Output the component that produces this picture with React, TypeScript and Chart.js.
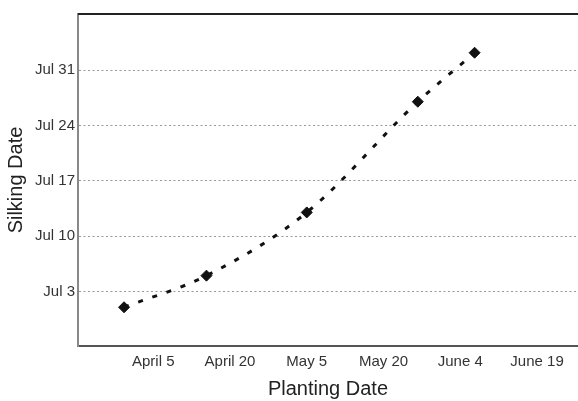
import { useEffect, useRef } from "react";
import { Chart, registerables } from "chart.js";

Chart.register(...registerables);

// Dates are stored as day of year (non-leap year): Mar 31 = 90, Jul 1 = 182.
const plantingDay = [89.3, 105.4, 125, 146.7, 157.8];
const silkingDay = [182, 186, 194, 208, 214.2];

const xTickValues = [95, 110, 125, 140, 155, 170];
const xTickLabels = ["April 5", "April 20", "May 5", "May 20", "June 4", "June 19"];
const yTickValues = [184, 191, 198, 205, 212];
const yTickLabels = ["Jul 3", "Jul 10", "Jul 17", "Jul 24", "Jul 31"];

const FONT = "'Liberation Sans', Arial, Helvetica, sans-serif";

// Dark rule along the top edge of the plot area.
const topBorder = {
  id: "topBorder",
  afterDraw(chart: any) {
    const { ctx, chartArea } = chart;
    ctx.save();
    ctx.strokeStyle = "#222";
    ctx.lineWidth = 2;
    ctx.beginPath();
    ctx.moveTo(chartArea.left, chartArea.top);
    ctx.lineTo(chartArea.right, chartArea.top);
    ctx.stroke();
    ctx.restore();
  },
};

export default function App() {
  const canvasRef = useRef<HTMLCanvasElement | null>(null);

  useEffect(() => {
    document.body.style.margin = "0";
    document.body.style.overflow = "hidden";
    const canvas = canvasRef.current;
    if (!canvas) return;
    const points = plantingDay.map((x, i) => ({ x, y: silkingDay[i] }));

    const chart = new Chart(canvas, {
      type: "scatter",
      data: {
        datasets: [
          {
            type: "line",
            data: points,
            borderColor: "#111",
            borderWidth: 3,
            borderDash: [5, 10],
            pointRadius: 0,
            tension: 0.4,
            cubicInterpolationMode: "monotone",
            fill: false,
          } as any,
          {
            data: points,
            pointStyle: "rectRot",
            pointRadius: 5.5,
            pointBackgroundColor: "#111",
            pointBorderColor: "#111",
            pointBorderWidth: 1,
          },
        ],
      },
      options: {
        responsive: false,
        animation: false,
        events: [],
        layout: { autoPadding: false, padding: { top: 14, left: 0, right: 0, bottom: 0 } },
        plugins: {
          legend: { display: false },
          tooltip: { enabled: false },
        },
        scales: {
          x: {
            type: "linear",
            min: 80.3,
            max: 178,
            afterBuildTicks: (axis: any) => {
              axis.ticks = xTickValues.map((value) => ({ value }));
            },
            afterFit: (axis: any) => {
              axis.height = 55;
              axis.paddingLeft = 0;
              axis.paddingRight = 0;
            },
            ticks: {
              autoSkip: false,
              maxRotation: 0,
              padding: 7,
              color: "#333",
              font: { family: FONT, size: 15 },
              callback: (value: any) => {
                const i = xTickValues.indexOf(Number(value));
                return i >= 0 ? xTickLabels[i] : "";
              },
            },
            grid: { display: false, drawTicks: false },
            border: { display: true, color: "#555", width: 2 },
            title: {
              display: true,
              text: "Planting Date",
              color: "#222",
              font: { family: FONT, size: 20 },
              padding: { top: 0, bottom: 0 },
            },
          },
          y: {
            type: "linear",
            min: 177.1,
            max: 219.1,
            afterBuildTicks: (axis: any) => {
              axis.ticks = yTickValues.map((value) => ({ value }));
            },
            afterFit: (axis: any) => {
              axis.width = 78;
            },
            ticks: {
              autoSkip: false,
              padding: 3,
              color: "#333",
              font: { family: FONT, size: 15 },
              callback: (value: any) => {
                const i = yTickValues.indexOf(Number(value));
                return i >= 0 ? yTickLabels[i] : "";
              },
            },
            grid: {
              color: "#999",
              lineWidth: 1,
              drawTicks: false,
            },
            border: { display: true, color: "#888", width: 2, dash: [2, 2.5] as any },
            title: {
              display: true,
              text: "Silking Date",
              color: "#222",
              font: { family: FONT, size: 20 },
              padding: { top: 4, bottom: 0 },
            },
          },
        },
      },
      plugins: [topBorder],
    });

    return () => chart.destroy();
  }, []);

  return (
    <div style={{ width: 578, height: 401, background: "#fff", overflow: "hidden" }}>
      <canvas
        ref={canvasRef}
        width={578}
        height={401}
        style={{ display: "block", width: 578, height: 401 }}
      />
    </div>
  );
}
